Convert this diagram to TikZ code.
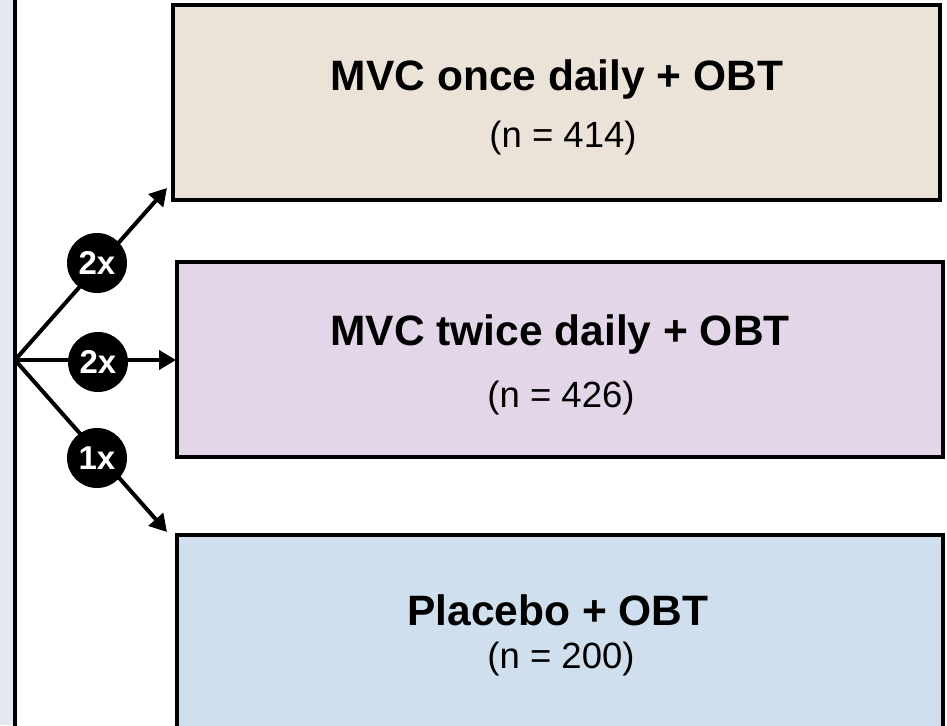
\documentclass[tikz,border=0pt]{standalone}
\usepackage{fontspec}
\setmainfont{Liberation Sans}
\usetikzlibrary{arrows.meta}
\definecolor{stripc}{HTML}{E4E8F2}
\definecolor{beigec}{HTML}{EBE3D8}
\definecolor{lilac}{HTML}{E3D6E8}
\definecolor{bluec}{HTML}{CFDFEE}
\tikzset{
  armbox/.style={draw=black, line width=4pt},
  title/.style={font=\fontsize{42.5}{48}\selectfont\bfseries, inner sep=0pt, anchor=base},
  count/.style={font=\fontsize{36.5}{42}\selectfont, inner sep=0pt, anchor=base},
  ratio/.style={circle, fill=black, text=white, minimum size=60pt, inner sep=0pt, font=\fontsize{33}{36}\selectfont\bfseries},
  arm/.style={line width=4pt, -{Triangle[length=17pt,width=19pt]}}
}
\begin{document}
\begin{tikzpicture}[x=1pt,y=-1pt]
\useasboundingbox (0,0) rectangle (947,725);
\begin{scope}
\clip (0,0) rectangle (947,725);
\fill[stripc] (0,0) rectangle (13,725);
\draw[line width=4pt] (15,-5) -- (15,730);
\draw[armbox, fill=beigec] (173,5) rectangle (940,200);
\draw[armbox, fill=lilac] (177,262) rectangle (943,457);
\draw[armbox, fill=bluec] (177,535) rectangle (943,760);
\end{scope}
\node[title] (t1) at (557,90) {MVC once daily + OBT};
\node[count] (n1) at (563,147) {(n = 414)};
\node[title] (t2) at (560,345) {MVC twice daily + OBT};
\node[count] (n2) at (561,407) {(n = 426)};
\node[title] (t3) at (558,625) {Placebo + OBT};
\node[count] (n3) at (561,668) {(n = 200)};
\coordinate (fan) at (15,360);
\coordinate (e1) at (167,188);
\coordinate (e2) at (176,360);
\coordinate (e3) at (167,532);
\draw[arm] (fan) -- (e1);
\draw[arm] (fan) -- (e2);
\draw[arm] (fan) -- (e3);
\node[ratio] (r1) at (97,263) {2x};
\node[ratio] (r2) at (98,362) {2x};
\node[ratio] (r3) at (97,458) {1x};
\end{tikzpicture}
\end{document}
